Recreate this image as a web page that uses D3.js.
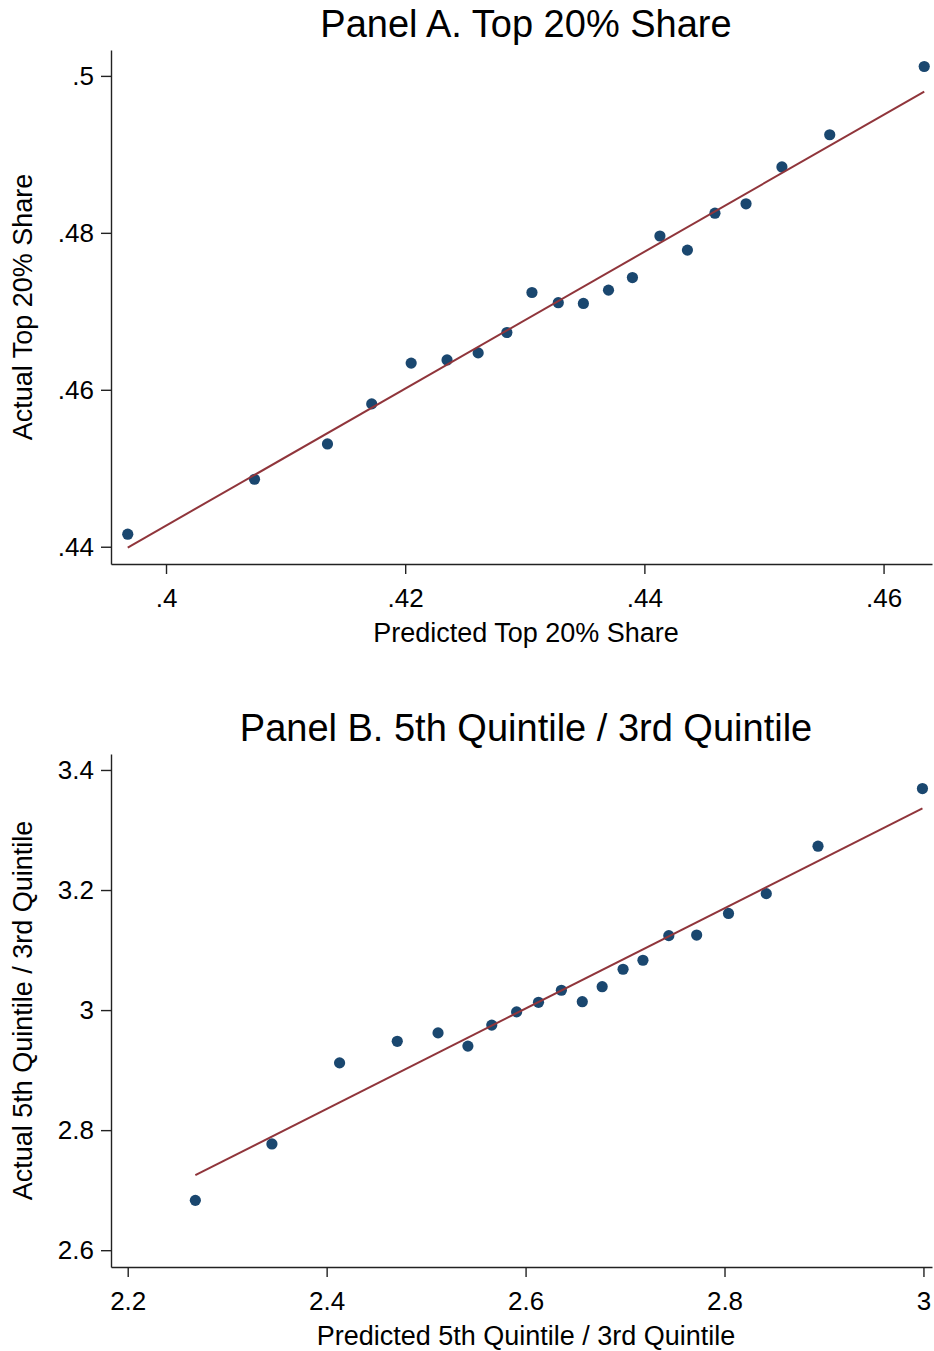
<!DOCTYPE html>
<html>
<head>
<meta charset="utf-8">
<script src="https://cdn.jsdelivr.net/npm/d3@7"></script>
<style>
  body { margin: 0; background: #fff; }
  svg { display: block; font-family: "Liberation Sans", Arial, sans-serif; }
  .axis path, .axis line { stroke: #222; stroke-width: 1.4; }
  .axis text { fill: #000; font-size: 26px; }
</style>
</head>
<body>
<svg id="chart" width="934" height="1351"></svg>
<script>
'use strict';

// Panel A: top 20% share (predicted vs actual)
var predA = [.3968, .4074, .4135, .4172, .4205, .4235, .4261, .4285, .4306, .4328,
  .4349, .4370, .4390, .4413, .4436, .4459, .4485, .4515, .4555, .4634];
var actualA = [.4416, .4486, .4531, .4582, .4634, .4638, .4647, .4673, .4724, .4711,
  .4710, .4727, .4743, .4796, .4778, .4825, .4837, .4884, .4925, .5012];
var fitA = [[.3968, .4399], [.4634, .4980]];
var xTicksA = [.40, .42, .44, .46];
var xLabelsA = ['.4', '.42', '.44', '.46'];
var yTicksA = [.44, .46, .48, .50];
var yLabelsA = ['.44', '.46', '.48', '.5'];

// Panel B: 5th quintile / 3rd quintile
var predB = [2.268, 2.345, 2.413, 2.471, 2.512, 2.542, 2.566, 2.591, 2.613, 2.636,
  2.657, 2.677, 2.698, 2.718, 2.744, 2.772, 2.804, 2.842, 2.894, 2.999];
var actualB = [2.683, 2.777, 2.912, 2.948, 2.962, 2.940, 2.975, 2.997, 3.013, 3.033,
  3.014, 3.039, 3.068, 3.083, 3.124, 3.125, 3.161, 3.194, 3.273, 3.369];
var fitB = [[2.268, 2.725], [2.999, 3.336]];
var xTicksB = [2.2, 2.4, 2.6, 2.8, 3.0];
var xLabelsB = ['2.2', '2.4', '2.6', '2.8', '3'];
var yTicksB = [2.6, 2.8, 3.0, 3.2, 3.4];
var yLabelsB = ['2.6', '2.8', '3', '3.2', '3.4'];

var svg = d3.select('#chart');
var left = 111, right = 932, centerX = 526;

function drawPanel(p) {
  var x = d3.scaleLinear().domain(p.xDomain).range([left, right]);
  var y = d3.scaleLinear().domain(p.yDomain).range([p.bottom, p.top]);
  var g = svg.append('g');

  g.append('text')
    .attr('x', centerX)
    .attr('y', p.top - 13)
    .attr('text-anchor', 'middle')
    .style('font-size', '38px')
    .text(p.title);

  g.append('g')
    .attr('class', 'axis')
    .attr('transform', 'translate(0,' + p.bottom + ')')
    .call(d3.axisBottom(x)
      .tickValues(p.xTicks)
      .tickFormat(function (d, i) { return p.xLabels[i]; })
      .tickSize(10)
      .tickSizeOuter(0)
      .tickPadding(15));

  g.append('g')
    .attr('class', 'axis')
    .attr('transform', 'translate(' + left + ',0)')
    .call(d3.axisLeft(y)
      .tickValues(p.yTicks)
      .tickFormat(function (d, i) { return p.yLabels[i]; })
      .tickSize(10)
      .tickSizeOuter(0)
      .tickPadding(7));

  g.append('text')
    .attr('x', centerX)
    .attr('y', p.bottom + 78)
    .attr('text-anchor', 'middle')
    .style('font-size', '27px')
    .text(p.xTitle);

  g.append('text')
    .attr('transform', 'translate(32,' + ((p.top + p.bottom) / 2) + ') rotate(-90)')
    .attr('text-anchor', 'middle')
    .style('font-size', '27px')
    .text(p.yTitle);

  g.selectAll('circle')
    .data(p.xs)
    .enter().append('circle')
    .attr('cx', function (d) { return x(d); })
    .attr('cy', function (d, i) { return y(p.ys[i]); })
    .attr('r', 5.6)
    .attr('fill', '#1a476f');

  g.append('path')
    .datum(p.fit)
    .attr('fill', 'none')
    .attr('stroke', '#90353b')
    .attr('stroke-width', 2)
    .attr('d', d3.line()
      .x(function (d) { return x(d[0]); })
      .y(function (d) { return y(d[1]); }));
}

drawPanel({
  title: 'Panel A. Top 20% Share',
  xTitle: 'Predicted Top 20% Share',
  yTitle: 'Actual Top 20% Share',
  top: 50, bottom: 564,
  xDomain: [.3954, .46405], yDomain: [.4378, .5033],
  xTicks: xTicksA, xLabels: xLabelsA, yTicks: yTicksA, yLabels: yLabelsA,
  xs: predA, ys: actualA, fit: fitA
});

drawPanel({
  title: 'Panel B. 5th Quintile / 3rd Quintile',
  xTitle: 'Predicted 5th Quintile / 3rd Quintile',
  yTitle: 'Actual 5th Quintile / 3rd Quintile',
  top: 754, bottom: 1267,
  xDomain: [2.1832, 3.0086], yDomain: [2.572, 3.4266],
  xTicks: xTicksB, xLabels: xLabelsB, yTicks: yTicksB, yLabels: yLabelsB,
  xs: predB, ys: actualB, fit: fitB
});
</script>
</body>
</html>
